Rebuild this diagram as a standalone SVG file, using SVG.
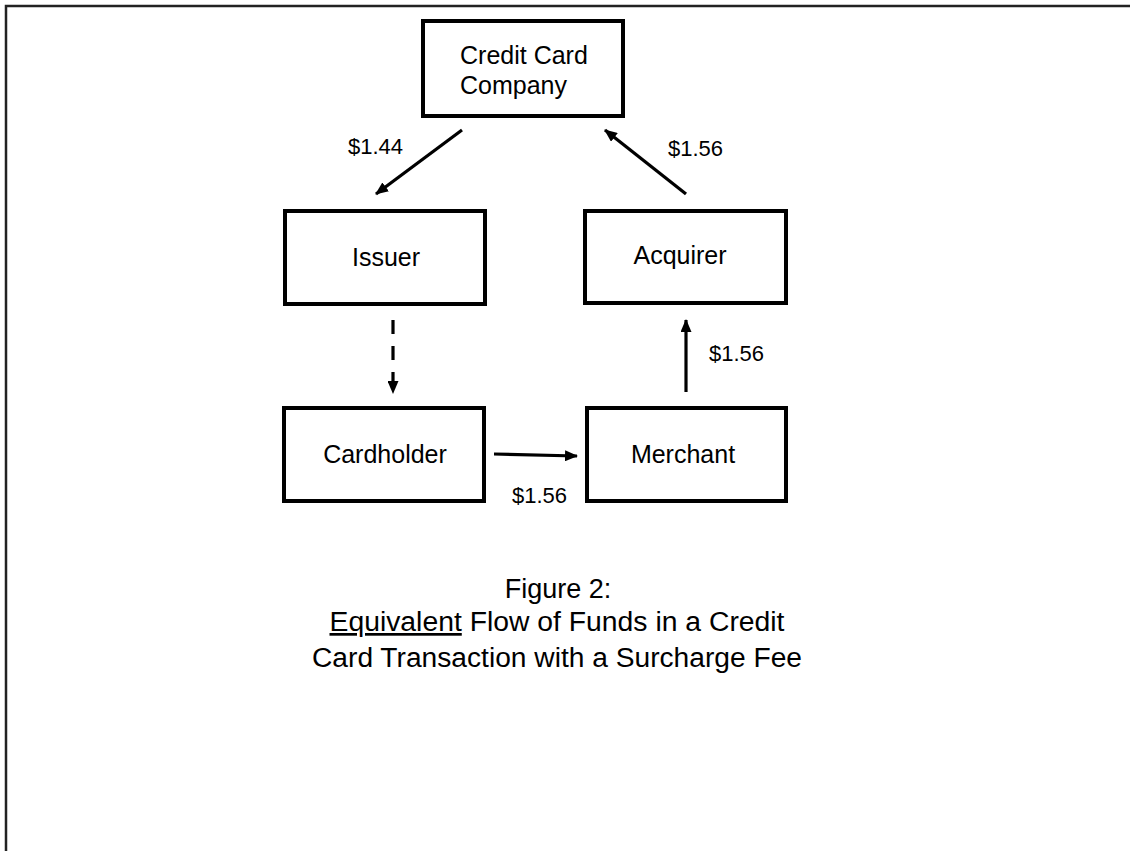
<svg xmlns="http://www.w3.org/2000/svg" width="1130" height="851" viewBox="0 0 1130 851">
<style>
.box{fill:#fff;stroke:#000;stroke-width:4}
.nt{font-family:"Liberation Sans",Arial,sans-serif;font-size:25px;fill:#000}
.lb{font-family:"Liberation Sans",Arial,sans-serif;font-size:22px;fill:#000}
.cap{font-family:"Liberation Sans",Arial,sans-serif;font-size:27px;fill:#000;text-anchor:middle}
.ar{stroke:#000;stroke-width:3.2;fill:none}
</style>
<defs>
<marker id="ah" markerUnits="userSpaceOnUse" markerWidth="13" markerHeight="11" refX="12" refY="5.5" orient="auto">
<path d="M0,0 L13,5.5 L0,11 z" fill="#000"/>
</marker>
</defs>
<rect width="1130" height="851" fill="#fff"/>
<path d="M6,851 V6 H1130" fill="none" stroke="#222" stroke-width="2.5"/>

<g id="node-ccc">
<rect class="box" x="423" y="21" width="200" height="95"/>
<text class="nt" x="460" y="64">Credit Card</text>
<text class="nt" x="460" y="94">Company</text>
</g>
<g id="node-issuer">
<rect class="box" x="285" y="211" width="200" height="93"/>
<text class="nt" x="386" y="266" text-anchor="middle">Issuer</text>
</g>
<g id="node-acquirer">
<rect class="box" x="585" y="211" width="201" height="92"/>
<text class="nt" x="680" y="264" text-anchor="middle">Acquirer</text>
</g>
<g id="node-cardholder">
<rect class="box" x="284" y="408" width="200" height="93"/>
<text class="nt" x="385" y="463" text-anchor="middle">Cardholder</text>
</g>
<g id="node-merchant">
<rect class="box" x="587" y="408" width="199" height="93"/>
<text class="nt" x="683" y="463" text-anchor="middle">Merchant</text>
</g>

<g id="connectors">
<line class="ar" x1="462" y1="130" x2="376" y2="194" marker-end="url(#ah)"/>
<line class="ar" x1="686" y1="194" x2="605" y2="130" marker-end="url(#ah)"/>
<line class="ar" x1="393" y1="320" x2="393" y2="393" stroke-dasharray="14 12" marker-end="url(#ah)"/>
<line class="ar" x1="686" y1="392" x2="686" y2="320" marker-end="url(#ah)"/>
<line class="ar" x1="494" y1="454" x2="577" y2="456" marker-end="url(#ah)"/>
<text class="lb" x="348" y="154">$1.44</text>
<text class="lb" x="668" y="156">$1.56</text>
<text class="lb" x="709" y="361">$1.56</text>
<text class="lb" x="512" y="503">$1.56</text>
</g>

<g id="caption">
<text class="cap" x="558" y="598">Figure 2:</text>
<text class="cap" x="557" y="631" textLength="455" lengthAdjust="spacingAndGlyphs"><tspan style="text-decoration:underline">Equivalent</tspan> Flow of Funds in a Credit</text>
<text class="cap" x="557" y="667" textLength="490" lengthAdjust="spacingAndGlyphs">Card Transaction with a Surcharge Fee</text>
</g>
</svg>
